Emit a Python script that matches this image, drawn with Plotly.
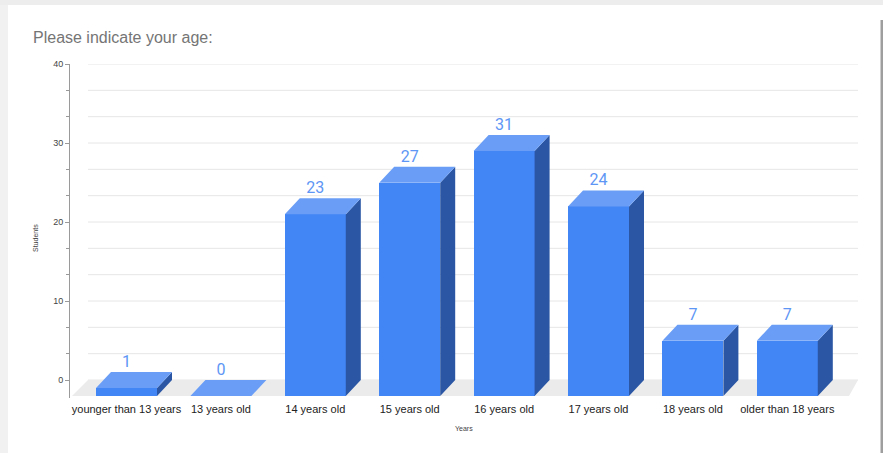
import plotly.graph_objects as go

# ---- data ----
categories = ["younger than 13 years", "13 years old", "14 years old", "15 years old",
              "16 years old", "17 years old", "18 years old", "older than 18 years"]
students = [1, 0, 23, 27, 31, 24, 7, 7]
y_ticks = [0, 10, 20, 30, 40]
title_text = "Please indicate your age:"
x_title = "Years"
y_title = "Students"

# ---- geometry (3D look) ----
W, H = 883, 453
L, R, T, B = 70, 13, 64, 55
plot_w = W - L - R
plot_h = H - T - B
px_per_cat = 94.4
first_center_px = 141.5
y_range = [-(398 - 380) / 7.9, 40]
x_range = [(L - first_center_px) / px_per_cat, (W - R - first_center_px) / px_per_cat]
px_per_unit = plot_h / (y_range[1] - y_range[0])

bar_w = 61 / px_per_cat
dx = 15 / px_per_cat
dy = 16 / px_per_unit

FRONT = "#4285F4"
TOP = "#6a9ef6"
SIDE = "#2a56a4"
LABEL = "#5e96f5"

fig = go.Figure()

# front faces
idx = list(range(len(categories)))
fig.add_trace(go.Bar(
    x=[i - dx for i in idx], y=students, base=[-dy] * len(idx), width=bar_w,
    marker=dict(color=FRONT, line=dict(width=0)), hoverinfo="skip", showlegend=False))

# top and side faces
tx, ty, sx, sy = [], [], [], []
for i, v in zip(idx, students):
    xl, xr = i - dx - bar_w / 2, i - dx + bar_w / 2
    tx += [xl, xr, xr + dx, xl + dx, xl, None]
    ty += [v - dy, v - dy, v, v, v - dy, None]
    if v > 0:
        sx += [xr, xr + dx, xr + dx, xr, xr, None]
        sy += [-dy, 0, v, v - dy, -dy, None]
fig.add_trace(go.Scatter(x=sx, y=sy, fill="toself", fillcolor=SIDE, mode="lines",
                         line=dict(width=0, color=SIDE), hoverinfo="skip", showlegend=False))
fig.add_trace(go.Scatter(x=tx, y=ty, fill="toself", fillcolor=TOP, mode="lines",
                         line=dict(width=0, color=TOP), hoverinfo="skip", showlegend=False))

# value labels
fig.add_trace(go.Scatter(
    x=[i - dx for i in idx], y=[v + 9 / px_per_unit for v in students],
    mode="text", text=[str(v) for v in students], textposition="middle center",
    textfont=dict(family="Roboto", size=16, color=LABEL),
    hoverinfo="skip", showlegend=False, cliponaxis=False))

# gridlines (back wall) and floor
grid_x0 = (88 - first_center_px) / px_per_cat
grid_x1 = (858 - first_center_px) / px_per_cat
shapes = []
step = 10 / 3
k = 0
while k * step <= 40 + 1e-9:
    yv = k * step
    shapes.append(dict(type="line", xref="x", yref="y", x0=grid_x0, x1=grid_x1, y0=yv, y1=yv,
                       line=dict(color="#e6e6e6", width=1), layer="below"))
    k += 1
floor_dx2 = 9 / px_per_cat
shapes.append(dict(type="path", xref="x", yref="y", layer="below",
                   path=f"M{grid_x0},0 L{grid_x1},0 L{grid_x1 - floor_dx2},{-dy} L{grid_x0 - 16/px_per_cat},{-dy} Z",
                   fillcolor="#ebebeb", line=dict(width=0)))

# frame (screenshot card edges)
def px2px(p):
    return (p - L) / plot_w
def py2py(q):
    return (H - B - q) / plot_h
shapes += [
    dict(type="rect", xref="paper", yref="paper", x0=px2px(0), x1=px2px(8), y0=py2py(H), y1=py2py(0),
         fillcolor="#f1f1f1", line=dict(width=0)),
    dict(type="rect", xref="paper", yref="paper", x0=px2px(0), x1=px2px(W), y0=py2py(5), y1=py2py(0),
         fillcolor="#ededed", line=dict(width=0)),
    dict(type="rect", xref="paper", yref="paper", x0=px2px(880.5), x1=px2px(W), y0=py2py(H), y1=py2py(20),
         fillcolor="#9e9e9e", line=dict(width=0)),
]

fig.update_layout(
    width=W, height=H, margin=dict(l=L, r=R, t=T, b=B),
    paper_bgcolor="white", plot_bgcolor="rgba(0,0,0,0)",
    shapes=shapes, bargap=0, showlegend=False, hovermode=False,
    font=dict(family="Liberation Sans", color="#222222"),
    title=dict(text=title_text, xref="container", yref="container", x=33 / W, xanchor="left",
               y=1 - 37 / H, yanchor="middle", font=dict(family="Liberation Sans", size=16, color="#757575")),
    xaxis=dict(range=x_range, tickvals=[i - dx for i in idx], ticktext=categories,
               showgrid=False, zeroline=False, showline=False, ticks="", ticklabelstandoff=3,
               tickfont=dict(size=11, color="#222222")),
    yaxis=dict(range=y_range, tickvals=y_ticks, ticktext=[str(t) for t in y_ticks],
               showgrid=False, zeroline=False, showline=True, linecolor="#9a9a9a", linewidth=1,
               ticks="outside", ticklen=4, tickcolor="#9a9a9a",
               minor=dict(tickvals=[k * step for k in range(13) if k % 3 != 0], ticks="outside",
                          ticklen=3, tickcolor="#9a9a9a"),
               tickfont=dict(size=9, color="#444444")),
    annotations=[
        dict(text=y_title, xref="paper", yref="paper", x=px2px(35), y=py2py(238), textangle=-90,
             showarrow=False, font=dict(size=7, color="#444444"), xanchor="center", yanchor="middle"),
        dict(text=x_title, xref="paper", yref="paper", x=px2px(464), y=py2py(428),
             showarrow=False, font=dict(size=7, color="#444444"), xanchor="center", yanchor="middle"),
    ],
)

fig.write_html("out.html")
